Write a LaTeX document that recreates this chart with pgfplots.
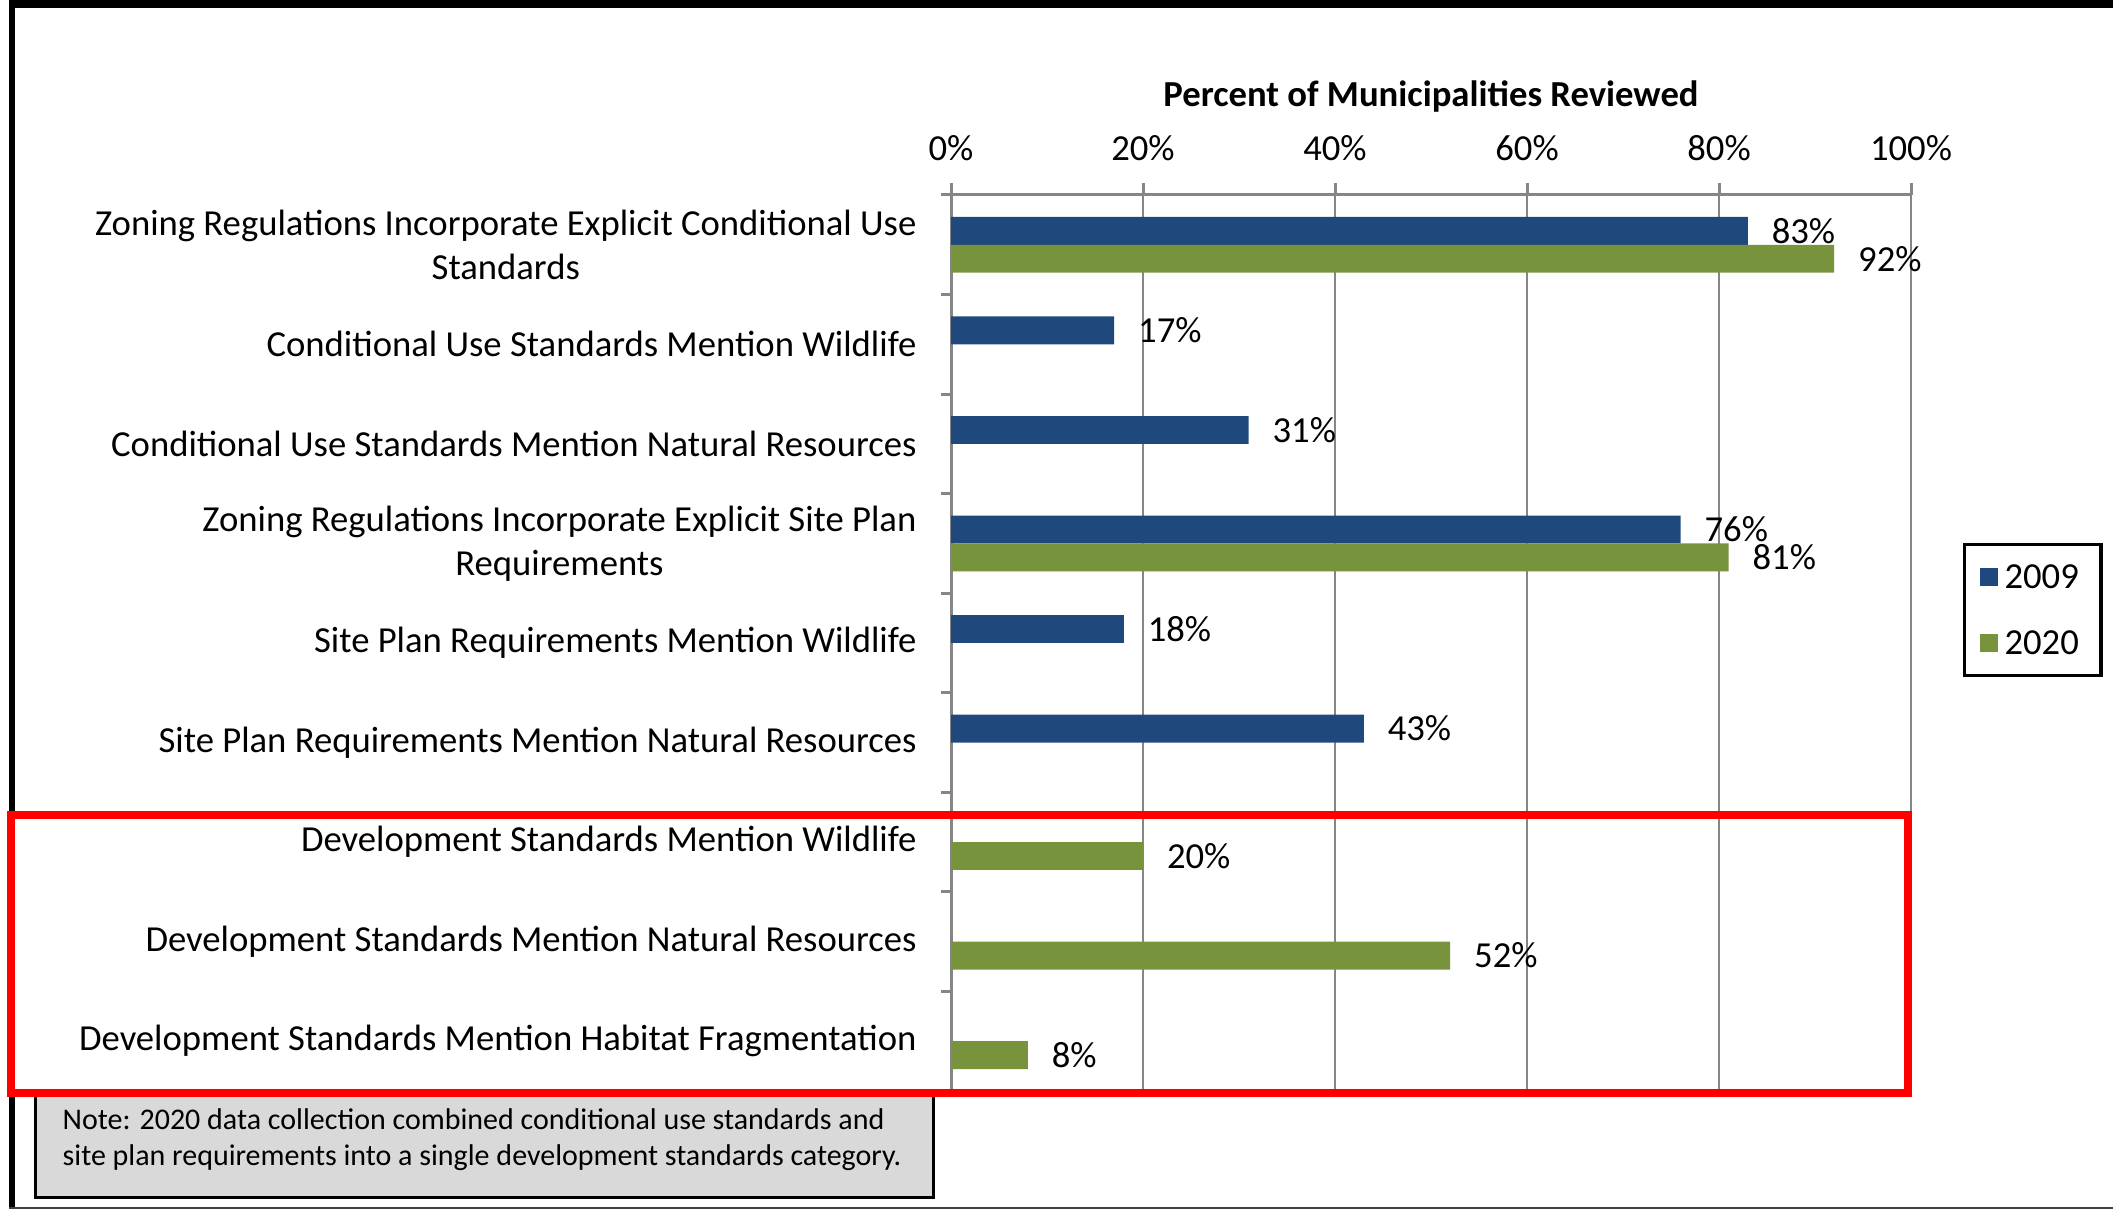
\documentclass[border=0pt]{standalone}
\usepackage{pgfplots}
\pgfplotsset{compat=1.18}
\usepackage{fontspec}
\setmainfont{Carlito}
\definecolor{blueA}{HTML}{1F497D}
\definecolor{greenB}{HTML}{77933C}
\definecolor{gridgray}{HTML}{868686}
\definecolor{notegray}{HTML}{D9D9D9}
\begin{document}
\begin{tikzpicture}
\useasboundingbox (0,0) rectangle (633.9pt,363.3pt);
% frame and note box (pixel coordinates of the reference, y downwards)
\begin{scope}[x=0.3pt,y=-0.3pt,yshift=363.3pt]
  \fill[black] (9,0) rectangle (2113,8);
  \fill[black] (9,0) rectangle (15,1209);
  \draw[black!75, line width=0.6pt] (9,1208) -- (2113,1208);
  \filldraw[fill=notegray, draw=black, line width=0.9pt] (35,1094) rectangle (933,1197);
  \node[anchor=base west, align=left, inner sep=0pt, font=\fontsize{9}{10.8}\selectfont]
    at (62,1165) {Note: 2020 data collection combined conditional use standards and\\site plan requirements into a single development standards category.};
\end{scope}

\begin{axis}[
  scale only axis, width=288pt, height=268.8pt,
  at={(285.3pt,36pt)}, anchor=south west,
  xmin=0, xmax=100, ymin=-0.5, ymax=8.5,
  axis x line*=top, axis y line*=left,
  axis line style={gridgray, line width=0.9pt},
  xtick={0,20,...,100},
  xticklabels={0\%,20\%,40\%,60\%,80\%,100\%},
  xmajorgrids, major grid style={gridgray, line width=0.6pt},
  tick align=outside, major tick length=3.6pt, minor tick length=3pt,
  xtick style={gridgray, line width=0.9pt},
  ytick={0,...,8},
  yticklabels={
    Development Standards Mention Habitat Fragmentation,
    Development Standards Mention Natural Resources,
    Development Standards Mention Wildlife,
    Site Plan Requirements Mention Natural Resources,
    Site Plan Requirements Mention Wildlife,
    {Zoning Regulations Incorporate Explicit Site Plan\\Requirements},
    Conditional Use Standards Mention Natural Resources,
    Conditional Use Standards Mention Wildlife,
    {Zoning Regulations Incorporate Explicit Conditional Use\\Standards}},
  minor ytick={-0.5,0.5,...,8.5},
  major y tick style={draw=none},
  minor y tick style={gridgray, line width=0.9pt},
  ticklabel style={font=\fontsize{11}{13.2}\selectfont},
  yticklabel style={align=center, xshift=-3.2pt},
  xticklabel style={yshift=3.2pt},
  clip=false,
  point meta=x,
  nodes near coords={\pgfmathprintnumber[assume math mode=true]{\pgfplotspointmeta}\%},
  nodes near coords style={anchor=west, inner sep=0pt, xshift=7pt, text=black,
    font=\fontsize{11}{13.2}\selectfont},
  legend style={at={(1.054,0.6116)}, anchor=north west, draw=black, line width=1pt,
    inner xsep=4.6pt, inner ysep=4.2pt, row sep=8.8pt,
    font=\fontsize{11}{13.2}\selectfont,
    nodes={inner sep=2pt, text height=7pt, text depth=0pt}},
  legend cell align=left,
  legend image code/.code={\fill[#1] (1pt,-2.7pt) rectangle (6.4pt,2.7pt);},
]
% 2009
\addplot[xbar, bar width=0.28, bar shift=0pt, fill=blueA, draw=none] coordinates {
  (83,8.14) (17,7.14) (31,6.14) (76,5.14) (18,4.14) (43,3.14)
};
\addlegendentry{2009}
% 2020
\addplot[xbar, bar width=0.28, bar shift=0pt, fill=greenB, draw=none] coordinates {
  (92,7.86) (81,4.86) (20,1.86) (52,0.86) (8,-0.14)
};
\addlegendentry{2020}
\end{axis}

\begin{scope}[x=0.3pt,y=-0.3pt,yshift=363.3pt]
  \draw[red, line width=2.3pt] (11,815) rectangle (1908,1093);
  \node[font=\fontsize{11}{13.2}\selectfont\bfseries] at (1431,97) {Percent of Municipalities Reviewed};
\end{scope}
\end{tikzpicture}
\end{document}
